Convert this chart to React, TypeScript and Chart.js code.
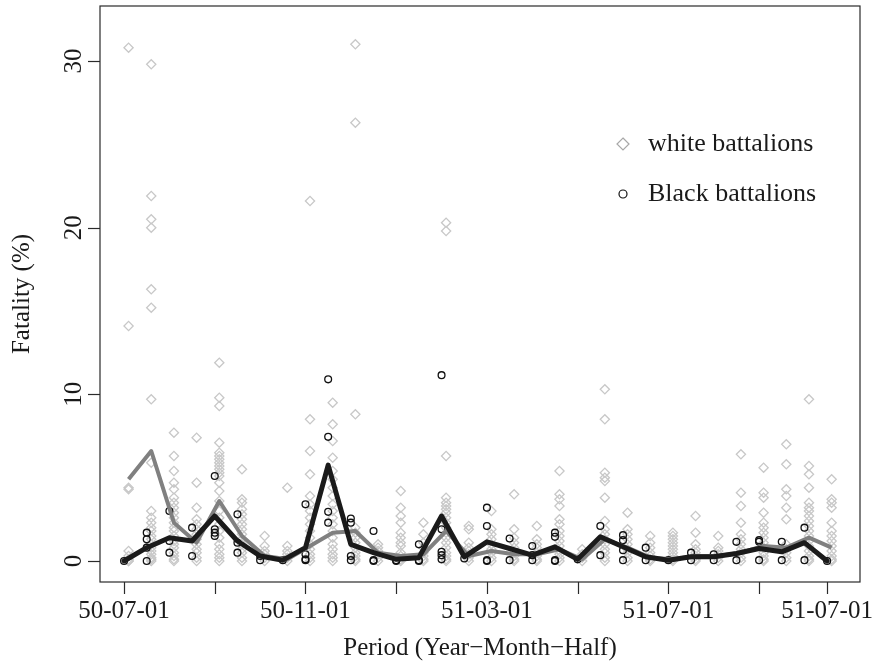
import { useEffect, useRef } from "react";
import { Chart, registerables } from "chart.js";

Chart.register(...registerables);

// Half-month periods (index 0 = 50-07-01)
const TICK_POSITIONS = [0, 4, 8, 12, 16, 20, 24, 28, 31];
const TICK_LABELS = ["50-07-01", "", "50-11-01", "", "51-03-01", "", "51-07-01", "", "51-07-01"];
const Y_TICKS = [0, 10, 20, 30];
const WHITE_OFFSET = 0.2;

const WHITE_MEAN = [4.9, 6.6, 2.3, 1.1, 3.6, 1.5, 0.3, 0.1, 0.9, 1.7, 1.8, 0.5, 0.3, 0.4, 1.8, 0.3,
  0.6, 0.4, 0.4, 0.7, 0.1, 1.3, 0.8, 0.2, 0.1, 0.3, 0.3, 0.5, 0.9, 0.8, 1.4, 0.8];
const BLACK_MEAN = [0, 0.8, 1.4, 1.2, 2.7, 1.2, 0.3, 0.05, 0.8, 5.75, 1.0, 0.5, 0.1, 0.2, 2.7, 0.25,
  1.15, 0.75, 0.35, 0.85, 0.1, 1.45, 0.85, 0.25, 0.05, 0.25, 0.25, 0.45, 0.75, 0.55, 1.1, 0];

const WHITE_POINTS: number[][] = [
  [30.8, 14.1, 4.4, 4.3, 0.6, 0.3, 0.1, 0, 0],
  [29.8, 21.9, 20.5, 20.0, 16.3, 15.2, 9.7, 5.9, 3.0, 2.6, 2.3, 2.0, 1.8, 1.5, 1.3, 1.0, 0.8, 0.6, 0.4, 0.2, 0.1, 0],
  [7.7, 6.3, 5.4, 4.7, 4.3, 3.8, 3.5, 3.2, 2.9, 2.6, 2.3, 2.0, 1.8, 1.5, 1.2, 1.0, 0.8, 0.5, 0.3, 0.1, 0],
  [7.4, 4.7, 3.2, 2.5, 2.2, 1.9, 1.6, 1.3, 1.0, 0.7, 0.5, 0.2, 0],
  [11.9, 9.8, 9.3, 7.1, 6.5, 6.3, 6.1, 5.9, 5.7, 5.5, 5.3, 5.1, 4.7, 4.2, 3.6, 3.0, 2.6, 2.2, 1.8, 1.4, 1.0, 0.7, 0.4, 0.2, 0],
  [5.5, 3.7, 3.5, 3.1, 2.8, 2.5, 2.2, 1.9, 1.6, 1.3, 1.0, 0.7, 0.5, 0.2, 0],
  [1.5, 0.9, 0.6, 0.4, 0.2, 0],
  [4.4, 0.9, 0.6, 0.4, 0.2, 0],
  [21.6, 8.5, 6.6, 5.2, 3.9, 3.4, 3.0, 2.6, 2.2, 1.8, 1.4, 1.0, 0.7, 0.4, 0.2, 0],
  [9.5, 8.2, 7.2, 6.2, 5.4, 4.9, 4.4, 3.9, 3.4, 3.0, 2.6, 2.2, 1.8, 1.4, 1.0, 0.7, 0.4, 0.2, 0],
  [31.0, 26.3, 8.8, 2.0, 1.7, 1.4, 1.1, 0.8, 0.5, 0.3, 0.1, 0],
  [1.0, 0.8, 0.6, 0.4, 0.2, 0],
  [4.2, 3.2, 2.7, 2.3, 1.7, 1.4, 1.1, 0.9, 0.5, 0.3, 0.1, 0],
  [2.3, 1.6, 1.1, 0.8, 0.5, 0.3, 0.1, 0],
  [20.3, 19.8, 6.3, 3.8, 3.5, 3.3, 3.1, 2.9, 2.6, 2.3, 2.0, 1.7, 1.4, 1.1, 0.8, 0.5, 0.3, 0.1, 0],
  [2.1, 1.9, 1.1, 0.8, 0.6, 0.4, 0.2, 0],
  [3.0, 1.9, 1.6, 1.3, 1.0, 0.7, 0.5, 0.2, 0],
  [4.0, 1.9, 1.4, 1.1, 0.8, 0.5, 0.3, 0.1, 0],
  [2.1, 1.3, 1.0, 0.8, 0.5, 0.3, 0.1, 0],
  [5.4, 4.0, 3.7, 3.3, 2.5, 2.2, 1.8, 1.5, 1.2, 0.9, 0.6, 0.4, 0.2, 0],
  [0.7, 0.4, 0.2, 0],
  [10.3, 8.5, 5.3, 5.0, 4.8, 3.8, 2.4, 1.9, 1.6, 1.3, 1.0, 0.7, 0.5, 0.2, 0],
  [2.9, 1.9, 1.6, 1.3, 1.0, 0.7, 0.5, 0.2, 0],
  [1.5, 1.1, 0.8, 0.5, 0.3, 0.1, 0],
  [1.7, 1.5, 1.3, 1.1, 0.9, 0.7, 0.5, 0.3, 0.1, 0],
  [2.7, 1.7, 1.0, 0.7, 0.5, 0.3, 0.1, 0],
  [1.5, 0.8, 0.6, 0.4, 0.2, 0],
  [6.4, 4.1, 3.3, 2.3, 1.6, 1.3, 1.0, 0.7, 0.5, 0.2, 0],
  [5.6, 4.1, 3.8, 2.9, 2.3, 2.0, 1.7, 1.4, 1.1, 0.8, 0.5, 0.3, 0.1, 0],
  [7.0, 5.8, 4.3, 3.9, 3.2, 2.5, 1.0, 0.7, 0.5, 0.2, 0],
  [9.7, 5.7, 5.2, 4.4, 3.5, 3.2, 3.0, 2.7, 2.4, 2.1, 1.8, 1.5, 1.2, 0.9, 0.6, 0.3, 0.1, 0],
  [4.9, 3.7, 3.5, 3.2, 2.3, 1.8, 1.5, 1.2, 0.9, 0.6, 0.3, 0.1, 0],
];

const BLACK_POINTS: number[][] = [
  [0],
  [1.7, 1.3, 0.8, 0],
  [3.0, 1.2, 0.5],
  [2.0, 0.3],
  [5.1, 1.9, 1.7, 1.5],
  [2.8, 1.1, 0.5],
  [0.3, 0.05],
  [0.05],
  [3.4, 0.4, 0.1, 0.05],
  [10.9, 7.45, 2.95, 2.3],
  [2.55, 2.3, 0.3, 0.05],
  [1.8, 0.05, 0],
  [0.05, 0],
  [1.0, 0.05, 0],
  [11.15, 1.9, 0.55, 0.35, 0.1],
  [0.15],
  [3.2, 2.1, 0.05, 0],
  [1.35, 0.05],
  [0.9, 0.35, 0.05],
  [1.7, 1.45, 0.05, 0],
  [0.1],
  [2.1, 0.35],
  [1.55, 1.25, 0.65, 0.05],
  [0.8, 0.05],
  [0.05],
  [0.5, 0.05],
  [0.4, 0.05],
  [1.15, 0.05],
  [1.25, 1.15, 0.05],
  [1.15, 0.05],
  [2.0, 0.05],
  [0],
];

const SERIF = '"Liberation Serif", "Times New Roman", serif';
const TEXT_COLOR = "#1a1a1a";

const rAxesPlugin = {
  id: "rAxes",
  afterDraw(chart: any) {
    const { ctx, chartArea, scales } = chart;
    const xs = scales.x;
    const ys = scales.y;
    ctx.save();
    ctx.strokeStyle = "#2a2a2a";
    ctx.lineWidth = 1.2;
    ctx.strokeRect(chartArea.left, chartArea.top, chartArea.right - chartArea.left, chartArea.bottom - chartArea.top);

    ctx.fillStyle = TEXT_COLOR;
    ctx.font = `25px ${SERIF}`;
    TICK_POSITIONS.forEach((v, i) => {
      const px = Math.round(xs.getPixelForValue(v)) + 0.5;
      ctx.beginPath();
      ctx.moveTo(px, chartArea.bottom);
      ctx.lineTo(px, chartArea.bottom + 12);
      ctx.stroke();
      const label = TICK_LABELS[i];
      if (label) {
        ctx.textAlign = "center";
        ctx.textBaseline = "middle";
        ctx.fillText(label, xs.getPixelForValue(v), chartArea.bottom + 29);
      }
    });
    Y_TICKS.forEach((v) => {
      const py = Math.round(ys.getPixelForValue(v)) + 0.5;
      ctx.beginPath();
      ctx.moveTo(chartArea.left - 12, py);
      ctx.lineTo(chartArea.left, py);
      ctx.stroke();
      ctx.save();
      ctx.translate(chartArea.left - 26, ys.getPixelForValue(v));
      ctx.rotate(-Math.PI / 2);
      ctx.textAlign = "center";
      ctx.textBaseline = "middle";
      ctx.fillText(String(v), 0, 0);
      ctx.restore();
    });
    ctx.textAlign = "center";
    ctx.textBaseline = "middle";
    ctx.fillText("Period (Year\u2212Month\u2212Half)", (chartArea.left + chartArea.right) / 2, chartArea.bottom + 66);
    ctx.save();
    ctx.translate(22, (chartArea.top + chartArea.bottom) / 2);
    ctx.rotate(-Math.PI / 2);
    ctx.fillText("Fatality (%)", 0, 0);
    ctx.restore();

    // legend
    const lx = 623;
    const ly1 = 144;
    const ly2 = 194;
    ctx.strokeStyle = "#a8a8a8";
    ctx.lineWidth = 1.2;
    ctx.beginPath();
    ctx.moveTo(lx, ly1 - 6);
    ctx.lineTo(lx + 6, ly1);
    ctx.lineTo(lx, ly1 + 6);
    ctx.lineTo(lx - 6, ly1);
    ctx.closePath();
    ctx.stroke();
    ctx.strokeStyle = "#111111";
    ctx.beginPath();
    ctx.arc(lx, ly2, 4, 0, Math.PI * 2);
    ctx.stroke();
    ctx.font = `26px ${SERIF}`;
    ctx.textAlign = "left";
    ctx.textBaseline = "middle";
    ctx.fillStyle = TEXT_COLOR;
    ctx.fillText("white battalions", 648, ly1);
    ctx.fillText("Black battalions", 648, ly2);
    ctx.restore();
  },
};

export default function App() {
  const ref = useRef<HTMLCanvasElement | null>(null);
  useEffect(() => {
    if (!ref.current) return;
    const whitePts: { x: number; y: number }[] = [];
    WHITE_POINTS.forEach((arr, i) => arr.forEach((y) => whitePts.push({ x: i + WHITE_OFFSET, y })));
    const blackPts: { x: number; y: number }[] = [];
    BLACK_POINTS.forEach((arr, i) => arr.forEach((y) => blackPts.push({ x: i, y })));
    const whiteLine = WHITE_MEAN.map((y, i) => ({ x: i + WHITE_OFFSET, y }));
    const blackLine = BLACK_MEAN.map((y, i) => ({ x: i, y }));

    const chart = new Chart(ref.current, {
      type: "scatter",
      data: {
        datasets: [
          {
            type: "line",
            label: "Black mean",
            data: blackLine,
            borderColor: "#1a1a1a",
            borderWidth: 5,
            pointRadius: 0,
            borderCapStyle: "round",
            borderJoinStyle: "round",
            order: 0,
          } as any,
          {
            type: "line",
            label: "white mean",
            data: whiteLine,
            borderColor: "#808080",
            borderWidth: 4,
            pointRadius: 0,
            borderCapStyle: "butt",
            borderJoinStyle: "round",
            order: 1,
          } as any,
          {
            label: "Black battalions",
            data: blackPts,
            pointStyle: "circle",
            pointRadius: 3.4,
            borderColor: "#111111",
            backgroundColor: "rgba(0,0,0,0)",
            borderWidth: 1.3,
            order: 2,
          },
          {
            label: "white battalions",
            data: whitePts,
            pointStyle: "rectRot",
            pointRadius: 4.6,
            borderColor: "#c8c8c8",
            backgroundColor: "rgba(0,0,0,0)",
            borderWidth: 1.3,
            order: 3,
          },
        ],
      },
      options: {
        animation: false,
        responsive: false,
        maintainAspectRatio: false,
        layout: { padding: { left: 100, right: 28, top: 6, bottom: 81 } },
        plugins: { legend: { display: false }, tooltip: { enabled: false } },
        scales: {
          x: { type: "linear", min: -1.06, max: 32.45, display: false },
          y: { type: "linear", min: -1.26, max: 33.3, display: false },
        },
      },
      plugins: [rAxesPlugin],
    });
    return () => chart.destroy();
  }, []);

  return (
    <div style={{ position: "fixed", left: 0, top: 0, width: 888, height: 663, background: "#fff" }}>
      <canvas ref={ref} width={888} height={663} style={{ width: 888, height: 663 }} />
    </div>
  );
}
